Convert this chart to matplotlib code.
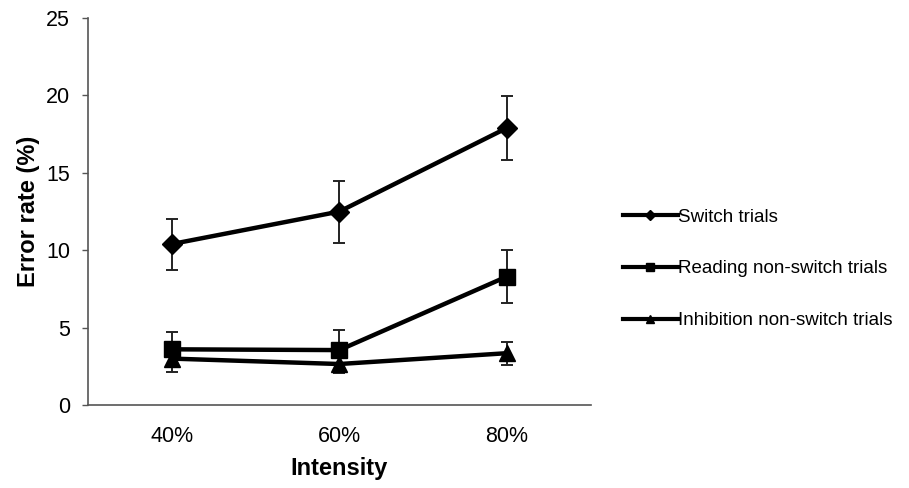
import matplotlib
matplotlib.use("Agg")
import matplotlib.pyplot as plt
from matplotlib.lines import Line2D

plt.rcParams['font.family'] = ['Liberation Sans', 'DejaVu Sans']

categories = ["40%", "60%", "80%"]
series_names = ["Switch trials", "Reading non-switch trials", "Inhibition non-switch trials"]
switch = [10.4, 12.5, 17.9]
switch_err = [1.65, 2.0, 2.05]
reading = [3.6, 3.55, 8.3]
reading_err = [1.1, 1.3, 1.7]
inhibition = [3.0, 2.65, 3.35]
inhibition_err = [0.85, 0.6, 0.75]
yticks = [0, 5, 10, 15, 20, 25]

fig = plt.figure(figsize=(9.09, 4.88), dpi=100)
ax = fig.add_axes([0.0968, 0.170, 0.553, 0.793])

x = list(range(1, len(categories) + 1))
styles = [("D", 10), ("s", 11), ("^", 11)]
data = [(switch, switch_err), (reading, reading_err), (inhibition, inhibition_err)]
handles = []
for (vals, errs), (mk, ms), name in zip(data, styles, series_names):
    ax.errorbar(x, vals, yerr=errs, color="black", lw=3.2, marker=mk, ms=ms,
                ecolor="#222222", elinewidth=1.4, capsize=4.5, capthick=1.4)
    handles.append(Line2D([], [], color="black", lw=3.0, marker=mk, ms=5.5))

ax.set_xlim(0.5, 3.5)
ax.set_ylim(0, 25)
ax.set_yticks(yticks)
ax.set_xticks(x)
ax.set_xticklabels(categories)
ax.tick_params(axis="x", length=0, labelsize=15.5, pad=15)
ax.tick_params(axis="y", length=4, width=1, color="#555555", labelsize=15.5, pad=9)
for s in ["top", "right"]:
    ax.spines[s].set_visible(False)
for s in ["left", "bottom"]:
    ax.spines[s].set_color("#555555")
    ax.spines[s].set_linewidth(1.2)

ax.set_ylabel("Error rate (%)", fontsize=17, fontweight="bold", labelpad=4)
ax.set_xlabel("Intensity", fontsize=17, fontweight="bold", labelpad=7)

fig.legend(handles, series_names, loc="center left", bbox_to_anchor=(0.667, 0.449),
           frameon=False, fontsize=13.5, handlelength=2.9, handletextpad=0.0,
           labelspacing=1.85)

fig.savefig("out.png", dpi=100)
